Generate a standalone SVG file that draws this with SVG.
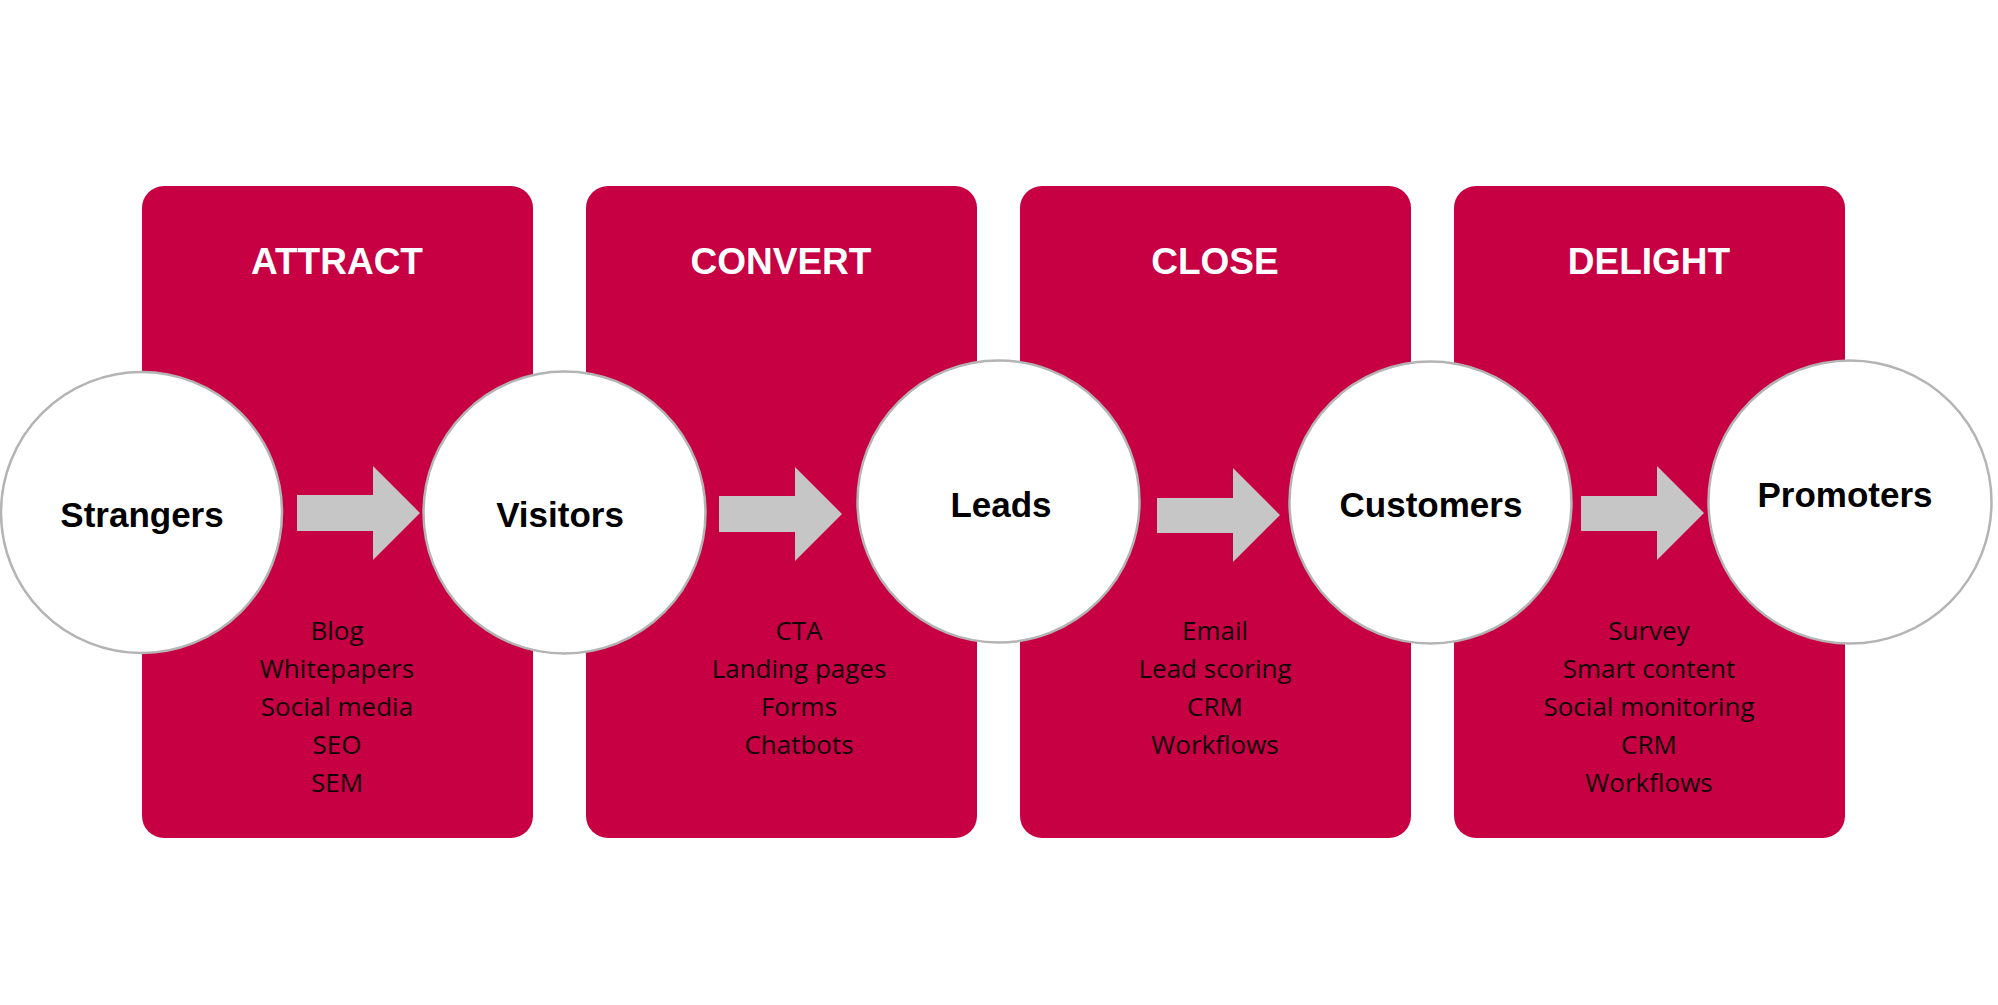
<svg xmlns="http://www.w3.org/2000/svg" width="1998" height="1005" viewBox="0 0 1998 1005">
<style>
.box{fill:#C70044;}
.title{font-family:"Liberation Sans",Arial,sans-serif;font-weight:bold;font-size:37px;fill:#ffffff;text-anchor:middle;}
.node{fill:#ffffff;stroke:#b4b4b4;stroke-width:2.5;}
.label{font-family:"Liberation Sans",Arial,sans-serif;font-weight:bold;font-size:35px;fill:#000000;text-anchor:middle;}
.item{font-family:"Open Sans","Liberation Sans",sans-serif;font-size:26px;fill:#120008;text-anchor:middle;}
.arrow{fill:#c6c6c6;}
</style>
<rect width="1998" height="1005" fill="#ffffff"/>
<g id="stage-attract">
<rect class="box" x="142" y="186" width="391" height="652" rx="22"/>
<text class="title" x="337" y="274">ATTRACT</text>
<text class="item" x="337" y="640">Blog</text>
<text class="item" x="337" y="678">Whitepapers</text>
<text class="item" x="337" y="716">Social media</text>
<text class="item" x="337" y="754">SEO</text>
<text class="item" x="337" y="792">SEM</text>
</g>
<g id="stage-convert">
<rect class="box" x="586" y="186" width="391" height="652" rx="22"/>
<text class="title" x="781" y="274">CONVERT</text>
<text class="item" x="799" y="640">CTA</text>
<text class="item" x="799" y="678">Landing pages</text>
<text class="item" x="799" y="716">Forms</text>
<text class="item" x="799" y="754">Chatbots</text>
</g>
<g id="stage-close">
<rect class="box" x="1020" y="186" width="391" height="652" rx="22"/>
<text class="title" x="1215" y="274">CLOSE</text>
<text class="item" x="1215" y="640">Email</text>
<text class="item" x="1215" y="678">Lead scoring</text>
<text class="item" x="1215" y="716">CRM</text>
<text class="item" x="1215" y="754">Workflows</text>
</g>
<g id="stage-delight">
<rect class="box" x="1454" y="186" width="391" height="652" rx="22"/>
<text class="title" x="1649" y="274">DELIGHT</text>
<text class="item" x="1649" y="640">Survey</text>
<text class="item" x="1649" y="678">Smart content</text>
<text class="item" x="1649" y="716">Social monitoring</text>
<text class="item" x="1649" y="754">CRM</text>
<text class="item" x="1649" y="792">Workflows</text>
</g>
<g id="connectors">
<polygon class="arrow" points="297,495 373,495 373,466 420,513 373,560 373,531 297,531"/>
<polygon class="arrow" points="719,496 795,496 795,467 842,514 795,561 795,532 719,532"/>
<polygon class="arrow" points="1157,498 1233,498 1233,468 1280,515 1233,562 1233,533 1157,533"/>
<polygon class="arrow" points="1581,496 1657,496 1657,466 1704,513 1657,560 1657,531 1581,531"/>
</g>
<g id="node-strangers">
<circle class="node" cx="141.5" cy="512.5" r="140.5"/>
<text class="label" x="142" y="527">Strangers</text>
</g>
<g id="node-visitors">
<circle class="node" cx="564.5" cy="512.5" r="141"/>
<text class="label" x="560" y="527">Visitors</text>
</g>
<g id="node-leads">
<circle class="node" cx="998.5" cy="501.5" r="141"/>
<text class="label" x="1001" y="517">Leads</text>
</g>
<g id="node-customers">
<circle class="node" cx="1430.5" cy="502.5" r="141"/>
<text class="label" x="1431" y="517">Customers</text>
</g>
<g id="node-promoters">
<circle class="node" cx="1850" cy="502" r="141.5"/>
<text class="label" x="1845" y="507">Promoters</text>
</g>
</svg>
